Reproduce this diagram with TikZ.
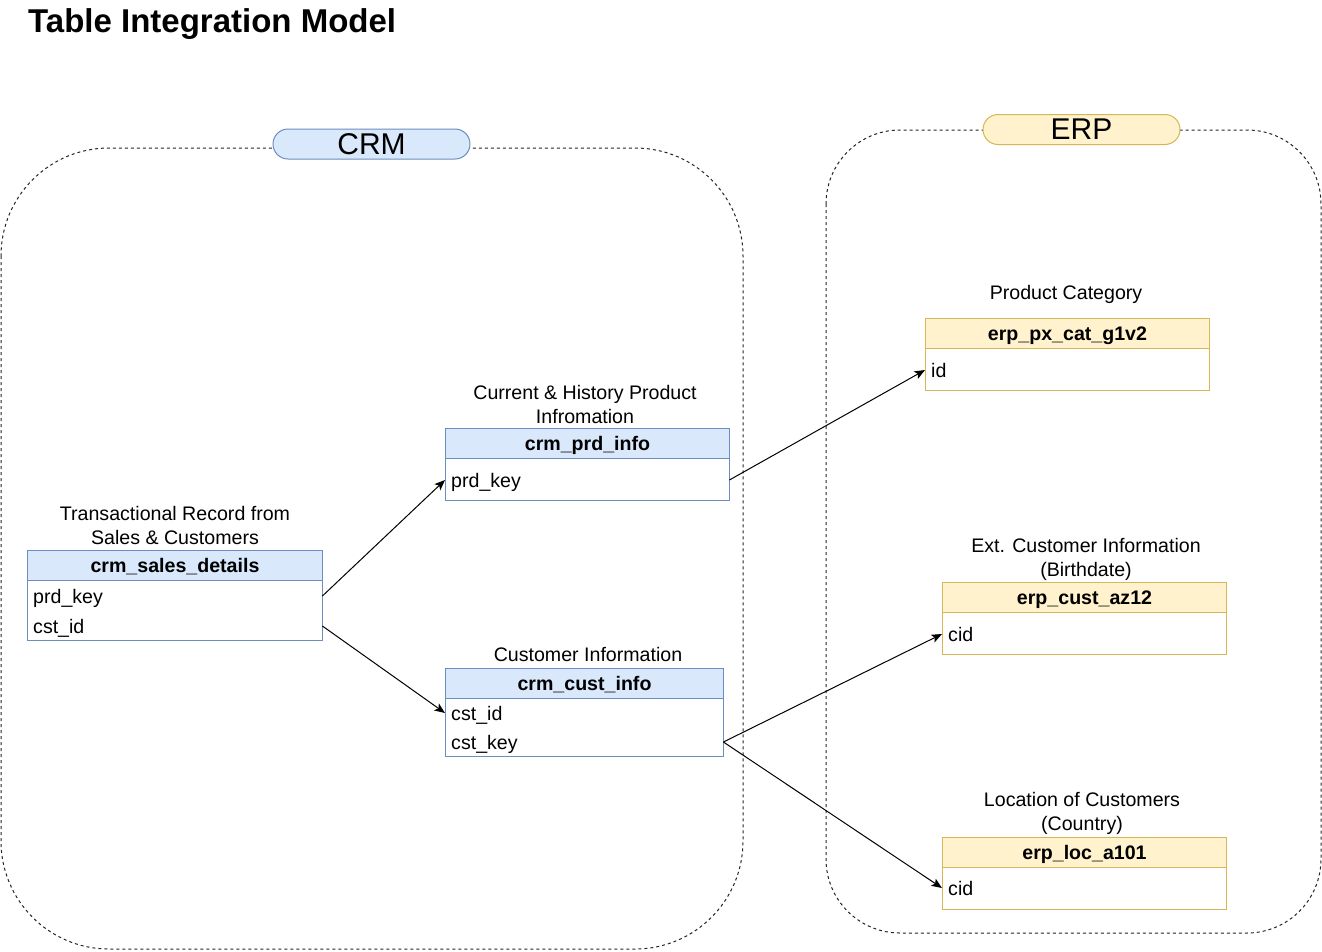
\documentclass[tikz,border=0pt]{standalone}
\usepackage{fontspec}
\setmainfont{Liberation Sans}
\usetikzlibrary{arrows.meta}
\definecolor{crmfill}{HTML}{DAE8FC}
\definecolor{crmline}{HTML}{6C8EBF}
\definecolor{erpfill}{HTML}{FFF2CC}
\definecolor{erpline}{HTML}{D6B656}
\newcommand{\bodyfont}{\fontsize{19.6}{24}\selectfont}
\begin{document}
\begin{tikzpicture}[x=1pt,y=-1pt,
  grp/.style={draw=black!85, line width=1pt, dash pattern=on 3pt off 3pt},
  pill/.style={line width=1pt, rounded corners=15pt, minimum width=197pt, minimum height=30pt, inner sep=0pt, font=\fontsize{30}{30}\selectfont},
  hdr/.style={line width=1pt, minimum height=30pt, inner sep=0pt, text height=16pt, text depth=2pt, anchor=north west, font=\bfseries\bodyfont},
  tbody/.style={draw, fill=white, line width=1pt, inner sep=0pt, anchor=north west},
  rowtext/.style={anchor=west, align=left, inner xsep=6pt, inner ysep=0pt, minimum height=28pt, text height=16pt, text depth=2pt, font=\bodyfont},
  lbl/.style={align=center, inner sep=0pt, font=\bodyfont},
  conn/.style={draw=black, line width=1pt, -{Stealth[length=10.5pt,width=8.5pt,inset=2.5pt]}}
]
\useasboundingbox (0,0) rectangle (1322,951);
\fill[white] (0,0) rectangle (1322,951);

% title
\node[anchor=base west, inner sep=0pt, font=\bfseries\fontsize{33}{36}\selectfont] (title) at (28,32) {Table Integration Model};

% containers
\draw[grp, rounded corners=108pt] (1,148) rectangle (743,949);
\draw[grp, rounded corners=74pt] (826,130) rectangle (1321,933);
\node[pill, draw=crmline, fill=crmfill] (crmpill) at (371.5,144) {CRM};
\node[pill, draw=erpline, fill=erpfill] (erppill) at (1081.5,129.5) {ERP};

% crm_sales_details
\node[lbl] (slbl) at (175,525.5) {Transactional Record from\\Sales \& Customers};
\node[hdr, draw=crmline, fill=crmfill, minimum width=295pt] (sh) at (27,550) {crm\_sales\_details};
\node[tbody, draw=crmline, minimum width=295pt, minimum height=60pt] (sb) at (27,580) {};
\node[rowtext, text width=283pt] (sprd) at (27,596) {prd\_key};
\node[rowtext, text width=283pt] (scst) at (27,626) {cst\_id};

% crm_prd_info
\node[lbl] (plbl) at (585,404.5) {Current \& History Product\\Infromation};
\node[hdr, draw=crmline, fill=crmfill, minimum width=284pt] (ph) at (445,428) {crm\_prd\_info};
\node[tbody, draw=crmline, minimum width=284pt, minimum height=42pt] (pb) at (445,458) {};
\node[rowtext, text width=272pt] (pprd) at (445,480) {prd\_key};

% crm_cust_info
\node[lbl] (clbl) at (588,654.5) {Customer Information};
\node[hdr, draw=crmline, fill=crmfill, minimum width=278pt] (ch) at (445,668) {crm\_cust\_info};
\node[tbody, draw=crmline, minimum width=278pt, minimum height=58pt] (cb) at (445,698) {};
\node[rowtext, text width=266pt] (ccid) at (445,713) {cst\_id};
\node[rowtext, text width=266pt] (ckey) at (445,742) {cst\_key};

% erp_px_cat_g1v2
\node[lbl] (xlbl) at (1066,294.5) {Product Category};
\node[hdr, draw=erpline, fill=erpfill, minimum width=284pt] (xh) at (925,318) {erp\_px\_cat\_g1v2};
\node[tbody, draw=erpline, minimum width=284pt, minimum height=42pt] (xb) at (925,348) {};
\node[rowtext, text width=272pt] (xid) at (925,370) {id};

% erp_cust_az12
\node[lbl] (albl) at (1086,559.5) {Ext. Customer Information\\(Birthdate)};
\node[hdr, draw=erpline, fill=erpfill, minimum width=284pt] (ah) at (942,582) {erp\_cust\_az12};
\node[tbody, draw=erpline, minimum width=284pt, minimum height=42pt] (ab) at (942,612) {};
\node[rowtext, text width=272pt] (acid) at (942,634) {cid};

% erp_loc_a101
\node[lbl] (llbl) at (1082,813.5) {Location of Customers\\(Country)};
\node[hdr, draw=erpline, fill=erpfill, minimum width=284pt] (lh) at (942,837) {erp\_loc\_a101};
\node[tbody, draw=erpline, minimum width=284pt, minimum height=42pt] (lb) at (942,867) {};
\node[rowtext, text width=272pt] (lcid) at (942,888) {cid};

% connectors
\draw[conn] (sprd.east) -- (pprd.west);
\draw[conn] (scst.east) -- (ccid.west);
\draw[conn] (pprd.east) -- (xid.west);
\draw[conn] (ckey.east) -- (acid.west);
\draw[conn] (ckey.east) -- (lcid.west);
\end{tikzpicture}
\end{document}
